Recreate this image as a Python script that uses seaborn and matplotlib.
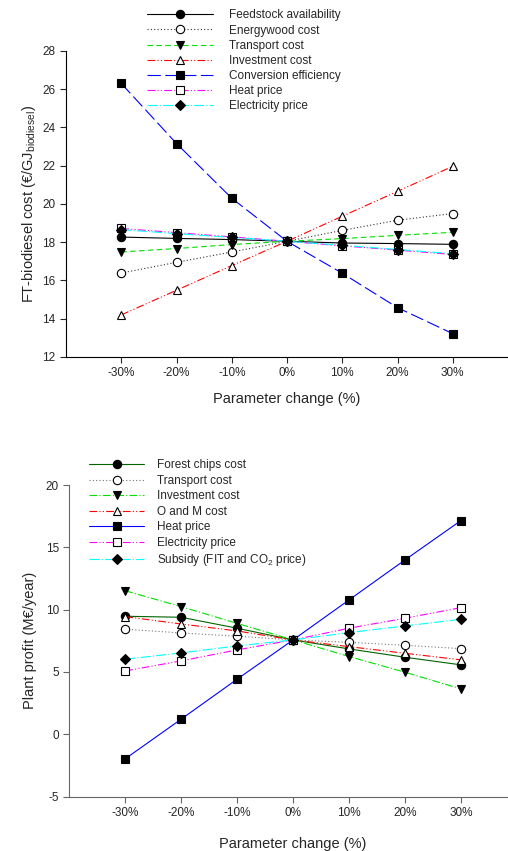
import matplotlib
matplotlib.use("Agg")
import matplotlib.pyplot as plt
import seaborn as sns

# x positions (parameter change, %)
changes = [-30, -20, -10, 0, 10, 20, 30]
tick_labels = ["-30%", "-20%", "-10%", "0%", "10%", "20%", "30%"]

# top panel: FT-biodiesel cost
feedstock = [18.27, 18.20, 18.14, 18.05, 17.96, 17.93, 17.89]
energywood = [16.39, 16.95, 17.49, 18.05, 18.62, 19.15, 19.50]
transport_top = [17.49, 17.67, 17.88, 18.05, 18.19, 18.36, 18.52]
investment_top = [14.20, 15.49, 16.78, 18.05, 19.36, 20.66, 21.97]
conversion = [26.30, 23.16, 20.30, 18.05, 16.38, 14.58, 13.22]
heat_top = [18.72, 18.50, 18.28, 18.05, 17.81, 17.59, 17.36]
electricity_top = [18.66, 18.45, 18.25, 18.05, 17.84, 17.62, 17.40]

# bottom panel: plant profit
forest_chips = [9.47, 9.39, 8.51, 7.57, 6.85, 6.18, 5.57]
transport_bot = [8.43, 8.13, 7.87, 7.57, 7.38, 7.14, 6.87]
investment_bot = [11.52, 10.24, 8.90, 7.57, 6.24, 4.98, 3.64]
o_and_m = [9.44, 8.85, 8.29, 7.57, 7.03, 6.50, 5.97]
heat_bot = [-1.97, 1.21, 4.42, 7.57, 10.78, 13.99, 17.15]
electricity_bot = [5.08, 5.89, 6.77, 7.57, 8.51, 9.31, 10.16]
subsidy = [6.02, 6.53, 7.09, 7.57, 8.16, 8.69, 9.23]

sns.set_style("ticks")
plt.rcParams['font.family'] = ['Liberation Sans', 'DejaVu Sans']
plt.rcParams['mathtext.fontset'] = 'custom'
plt.rcParams['mathtext.rm'] = 'Liberation Sans'
plt.rcParams['mathtext.it'] = 'Liberation Sans'
plt.rcParams['axes.unicode_minus'] = False

DDOT = (0, (7, 2, 1, 2, 1, 2))

top_series = [
    ("Feedstock availability", feedstock, "black", "-", "o", "black"),
    ("Energywood cost", energywood, "#333333", (0, (1, 2)), "o", "white"),
    ("Transport cost", transport_top, "#00e000", (0, (5, 3)), "v", "black"),
    ("Investment cost", investment_top, "red", DDOT, "^", "white"),
    ("Conversion efficiency", conversion, "blue", (0, (12, 4)), "s", "black"),
    ("Heat price", heat_top, "magenta", DDOT, "s", "white"),
    ("Electricity price", electricity_top, "#00ffff", (0, (9, 2, 1, 2)), "D", "black"),
]

bot_series = [
    ("Forest chips cost", forest_chips, "#006400", "-", "o", "black"),
    ("Transport cost", transport_bot, "#777777", (0, (1, 2)), "o", "white"),
    ("Investment cost", investment_bot, "#00e000", (0, (7, 2, 1, 2)), "v", "black"),
    ("O and M cost", o_and_m, "red", DDOT, "^", "white"),
    ("Heat price", heat_bot, "blue", "-", "s", "black"),
    ("Electricity price", electricity_bot, "magenta", DDOT, "s", "white"),
    ("Subsidy (FIT and CO$_2$ price)", subsidy, "#00ffff", (0, (9, 2, 1, 2)), "D", "black"),
]

fig = plt.figure(figsize=(5.08, 8.51), dpi=100)
ax1 = fig.add_axes([0.130, 0.5805, 0.870, 0.3596])
ax2 = fig.add_axes([0.1364, 0.0640, 0.881, 0.3660])


def draw(ax, series):
    for label, vals, col, ls, mk, fc in series:
        sns.lineplot(x=changes, y=vals, ax=ax, color=col, linestyle=ls, linewidth=0.8,
                     marker=mk, markersize=6.0 if mk != "D" else 5.5,
                     markerfacecolor=fc, markeredgecolor="black", markeredgewidth=0.8,
                     label=label)
    ax.set_xlim(-40, 40)
    ax.set_xticks(changes)
    ax.set_xticklabels(tick_labels)
    ax.tick_params(labelsize=8.5, length=4, width=0.8)
    sns.despine(ax=ax)


draw(ax1, top_series)
ax1.set_xlabel("Parameter change (%)", fontsize=10.5, labelpad=9)
ax1.set_ylim(12, 28)
ax1.set_yticks(range(12, 29, 2))
ax1.set_ylabel(r"FT-biodiesel cost (€/GJ$_{\mathrm{biodiesel}}$)", fontsize=10.5, labelpad=3)
for s in ax1.spines.values():
    s.set_color("black")
ax1.legend(loc="upper left", bbox_to_anchor=(0.289, 0.989), bbox_transform=fig.transFigure,
           frameon=False, fontsize=8.5, handlelength=5.6, handletextpad=1.4,
           labelspacing=0.27, borderpad=0, borderaxespad=0)

draw(ax2, bot_series)
ax2.set_xlabel("Parameter change (%)", fontsize=10.5, labelpad=13)
ax2.set_ylim(-5, 20)
ax2.set_yticks(range(-5, 21, 5))
ax2.set_ylabel("Plant profit (M€/year)", fontsize=10.5, labelpad=6)
for s in ax2.spines.values():
    s.set_color("#666666")
ax2.tick_params(color="#666666")
ax2.legend(loc="upper left", bbox_to_anchor=(0.176, 0.4605), bbox_transform=fig.transFigure,
           frameon=False, fontsize=8.5, handlelength=4.6, handletextpad=1.1,
           labelspacing=0.3, borderpad=0, borderaxespad=0)

fig.savefig("out.png", dpi=100)
